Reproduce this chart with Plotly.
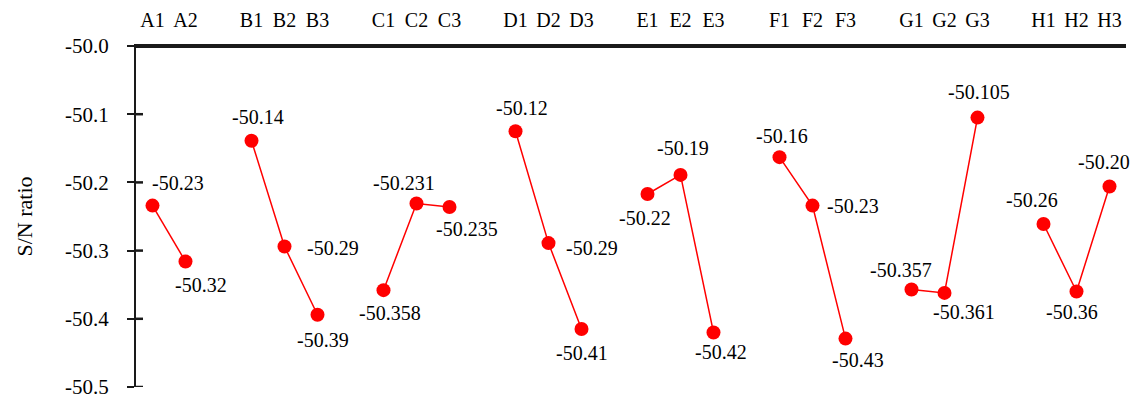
import plotly.graph_objects as go

# ---- data ----
groups = ["A", "B", "C", "D", "E", "F", "G", "H"]
levels_A = ["A1", "A2"]
levels_B = ["B1", "B2", "B3"]
levels_C = ["C1", "C2", "C3"]
levels_D = ["D1", "D2", "D3"]
levels_E = ["E1", "E2", "E3"]
levels_F = ["F1", "F2", "F3"]
levels_G = ["G1", "G2", "G3"]
levels_H = ["H1", "H2", "H3"]

sn_A = [-50.234, -50.316]
sn_B = [-50.139, -50.294, -50.394]
sn_C = [-50.358, -50.231, -50.236]
sn_D = [-50.125, -50.289, -50.415]
sn_E = [-50.217, -50.189, -50.420]
sn_F = [-50.163, -50.234, -50.429]
sn_G = [-50.357, -50.362, -50.105]
sn_H = [-50.261, -50.360, -50.206]

text_A = ["-50.23", "-50.32"]
text_B = ["-50.14", "-50.29", "-50.39"]
text_C = ["-50.358", "-50.231", "-50.235"]
text_D = ["-50.12", "-50.29", "-50.41"]
text_E = ["-50.22", "-50.19", "-50.42"]
text_F = ["-50.16", "-50.23", "-50.43"]
text_G = ["-50.357", "-50.361", "-50.105"]
text_H = ["-50.26", "-50.36", "-50.20"]

y_ticks = [-50.0, -50.1, -50.2, -50.3, -50.4, -50.5]
y_ticktext = ["-50.0", "-50.1", "-50.2", "-50.3", "-50.4", "-50.5"]
y_title = "S/N ratio"

# ---- label placement (pixel offsets: dx right, dy down) ----
label_offsets = {
    "A": [(25, -23), (15, 23)],
    "B": [(6, -24), (48, 1), (5, 25)],
    "C": [(6, 23), (-13, -21), (17, 22)],
    "D": [(6, -23), (43, 5), (0, 24)],
    "E": [(-3, 24), (2, -27), (7, 20)],
    "F": [(2, -21), (40, 0), (12, 21)],
    "G": [(-11, -19), (19, 19), (1, -26)],
    "H": [(-12, -24), (-5, 20), (-6, -24)],
}

all_levels = [levels_A, levels_B, levels_C, levels_D, levels_E, levels_F, levels_G, levels_H]
all_sn = [sn_A, sn_B, sn_C, sn_D, sn_E, sn_F, sn_G, sn_H]
all_text = [text_A, text_B, text_C, text_D, text_E, text_F, text_G, text_H]

FONT = "Times New Roman"
RED = "red"
INK = "#1a1a1a"
W, H = 1131, 404
M_L, M_R, M_T, M_B = 136, 5, 46, 10
TICK_IN_PX = 7

fig = go.Figure()
annotations = []
tickvals, ticktext = [], []
pos = 0
for g, lv, vals, txt in zip(groups, all_levels, all_sn, all_text):
    xs = list(range(pos, pos + len(lv)))
    fig.add_trace(go.Scatter(
        x=xs, y=vals, mode="lines+markers",
        line=dict(color=RED, width=1.5),
        marker=dict(color=RED, size=14),
        showlegend=False,
    ))
    for xi, v, t, (dx, dy) in zip(xs, vals, txt, label_offsets[g]):
        annotations.append(dict(
            x=xi, y=v, xref="x", yref="y", text=t, showarrow=False,
            xshift=dx, yshift=-dy, xanchor="center", yanchor="middle",
            font=dict(family=FONT, size=20, color="black"),
        ))
    tickvals += xs
    ticktext += lv
    pos += len(lv) + 1

x_range = [-0.5, pos - 1.5]
y_range = [min(y_ticks), max(y_ticks)]

# frame decorations drawn as plain line traces, positioned from the axis ranges
px_per_unit = (W - M_L - M_R) / (x_range[1] - x_range[0])
fig.add_trace(go.Scatter(
    x=x_range, y=[y_range[1], y_range[1]], mode="lines",
    line=dict(color=INK, width=4), showlegend=False, hoverinfo="skip",
))
tx, ty = [], []
for t in y_ticks:
    tx += [x_range[0], x_range[0] + TICK_IN_PX / px_per_unit, None]
    ty += [t, t, None]
fig.add_trace(go.Scatter(
    x=tx, y=ty, mode="lines", line=dict(color=INK, width=2.5),
    showlegend=False, hoverinfo="skip",
))

fig.update_layout(
    template="simple_white",
    width=W, height=H,
    margin=dict(l=M_L, r=M_R, t=M_T, b=M_B),
    font=dict(family=FONT, size=20, color="black"),
    xaxis=dict(
        range=x_range, side="top",
        tickvals=tickvals, ticktext=ticktext, ticks="",
        showline=True, linecolor=INK, linewidth=2,
        tickfont=dict(family=FONT, size=20, color="black"),
        ticklabelstandoff=9,
    ),
    yaxis=dict(
        range=y_range, tickvals=y_ticks, ticktext=y_ticktext,
        ticks="outside", ticklen=7, tickwidth=2, tickcolor=INK,
        showline=True, linecolor=INK, linewidth=2,
        tickfont=dict(family=FONT, size=21, color="black"),
        ticklabelstandoff=14, ticklabeloverflow="allow",
        title=dict(text=y_title, font=dict(family=FONT, size=22, color="black"), standoff=26),
    ),
    annotations=annotations,
)

fig.write_html("out.html")
